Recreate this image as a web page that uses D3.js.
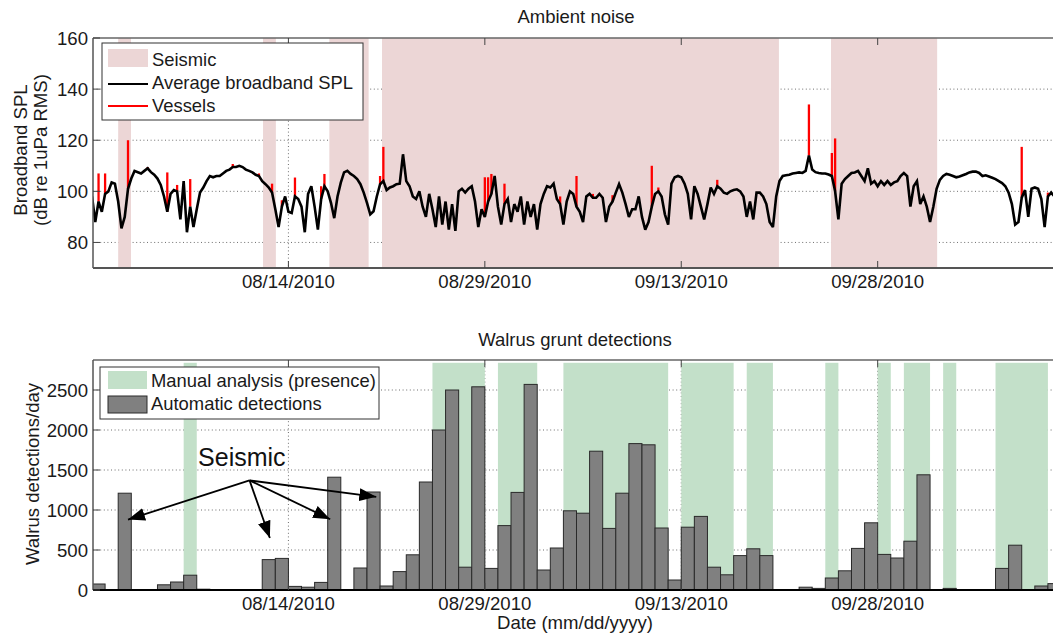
<!DOCTYPE html>
<html>
<head>
<meta charset="utf-8">
<script src="https://cdn.jsdelivr.net/npm/d3@7"></script>
<style>
  body { margin: 0; background: #fff; }
  svg { display: block; font-family: "Liberation Sans", Arial, sans-serif; }
</style>
</head>
<body>
<svg id="chart" width="1053" height="639"></svg>
<script>
// ---- data ----

// broadband SPL, one value every 6 hours starting 07/30/2010 00:00
var splStart = "2010-07-30 00:00";
var splStepHours = 6;
var splValues = [
  98, 88, 96, 92, 99, 100, 103.5, 103, 96, 85.5,
  90, 101, 105, 108, 107.5, 107, 108, 109, 107.5, 106.5,
  105, 102.5, 98, 92, 99, 100.5, 100, 89, 104, 84,
  94, 86, 93, 99.5, 101.5, 104, 106, 105.5, 106, 106,
  107, 108, 108.5, 109.5, 109.5, 110, 109.5, 108.5, 108, 107.4,
  106.5, 106, 104, 102.8, 101.5, 99.5, 93, 86, 94, 98,
  92, 91.5, 98, 97, 94, 84, 99, 102, 94, 85,
  97, 102, 100, 95.5, 89.5, 98, 103.4, 107.4, 108, 106.8,
  106, 104.8, 102.8, 99.5, 95.5, 91, 92.2, 98, 102.8, 104,
  100.5, 101.5, 102, 102.8, 103, 114.5, 104, 102, 98, 97,
  100, 94, 90, 99, 93, 86, 98, 87, 96, 85,
  95, 84.5, 100, 101, 99.5, 101, 102, 96, 86, 93,
  90, 96, 99, 106, 94, 87, 95, 97, 88, 95,
  92, 98, 87, 96, 90, 95, 85, 95, 99, 102,
  101.5, 103, 97, 95, 87, 96, 100, 99, 94, 92,
  88, 98, 99, 97.5, 97.5, 99, 97.5, 88, 94, 96,
  99.5, 102.8, 99.5, 95, 90, 93, 93, 98, 90, 85,
  88, 94, 99, 100, 98, 91, 87, 103, 105.5, 106,
  105.5, 103, 99, 89, 102, 99, 94, 89, 95, 101.5,
  99, 102, 101, 99.5, 99, 100, 100.5, 100.8, 100, 98,
  90, 96, 89, 99.5, 99.5, 98, 95, 88, 86, 98,
  104, 106, 106.3, 106.5, 107, 107.2, 107.4, 107.2, 108, 114,
  108.5, 107.5, 107.2, 107, 107, 106.6, 106, 100, 89, 103,
  104.8, 106, 107.2, 107.4, 108, 106, 104, 109, 103, 104,
  102, 104, 102.5, 104, 102.5, 103.5, 104, 106, 107.2, 106,
  94, 102, 104, 95, 98, 94, 88, 94, 101, 104.5,
  106, 106.8, 106.5, 106, 105.5, 105.8, 106.3, 106.8, 107.4, 107.7,
  107.7, 107.2, 106, 106.3, 105.8, 105.3, 104.8, 104, 103.2, 102,
  99.5, 95, 87, 88, 97.5, 100.5, 90, 101, 101.5, 101,
  97, 86, 98, 99.5, 98, 100
];

// vessel noise: sample index in splValues and the peak level reached
var vesselSteps = [2, 4, 11, 17, 23, 26, 30, 43, 51, 55, 58, 62, 70, 71, 88, 89,
  120, 121, 122, 126, 143, 148, 153, 159, 171, 173, 191, 219, 226, 227, 284, 292];
var vesselPeaks = [107, 107, 120, 109.5, 107.4, 102.5, 104.8, 110.7, 107, 103, 96.5, 105.4, 102, 106.8, 106, 117.4,
  105.5, 105.5, 106.8, 103, 98, 106, 99, 98.5, 110, 101.5, 104.5, 134, 115, 120.7, 117.4, 99.5];

// seismic survey periods
var seismicPeriods = [
  ["2010-08-01 00:00", "2010-08-01 23:30"],
  ["2010-08-12 01:30", "2010-08-13 01:00"],
  ["2010-08-17 03:00", "2010-08-20 03:00"],
  ["2010-08-21 03:30", "2010-09-20 11:00"],
  ["2010-09-24 10:30", "2010-10-02 13:00"]
];

// automatic walrus grunt detections per day, starting 07/30/2010
var detStart = "2010-07-30 00:00";
var detections = [
  75, 0, 1210, 0, 0, 65, 100, 185, 10, 0,
  0, 0, 0, 380, 395, 45, 35, 95, 1410, 0,
  275, 1225, 50, 230, 440, 1350, 2000, 2500, 285, 2540,
  270, 805, 1220, 2570, 250, 525, 990, 960, 1735, 770,
  1210, 1830, 1815, 775, 125, 785, 920, 285, 190, 430,
  515, 430, 5, 0, 35, 20, 150, 240, 520, 840,
  445, 400, 610, 1440, 0, 20, 0, 0, 0, 270,
  560, 5, 50, 80
];

// manual analysis: days with walrus presence
var manualPresence = [
  ["2010-08-06 00:00", "2010-08-07 00:00"],
  ["2010-08-25 00:00", "2010-08-29 00:00"],
  ["2010-08-30 00:00", "2010-09-02 00:00"],
  ["2010-09-04 00:00", "2010-09-12 00:00"],
  ["2010-09-13 00:00", "2010-09-17 00:00"],
  ["2010-09-18 00:00", "2010-09-20 00:00"],
  ["2010-09-24 00:00", "2010-09-25 00:00"],
  ["2010-09-28 00:00", "2010-09-29 00:00"],
  ["2010-09-30 00:00", "2010-10-02 00:00"],
  ["2010-10-03 00:00", "2010-10-04 00:00"],
  ["2010-10-07 00:00", "2010-10-11 00:00"]
];
var presenceLevel = 2840;

// "Seismic" annotation: label, arrow origin and arrow tips (bottom panel units)
var noteLabel = ["2010-08-07 02:30", 1550];
var noteOrigin = ["2010-08-11 00:45", 1370];
var noteTargets = [
  ["2010-08-01 18:00", 880],
  ["2010-08-12 14:00", 650],
  ["2010-08-17 04:30", 885],
  ["2010-08-20 17:00", 1165]
];

var dateTicks = ["2010-08-14 00:00", "2010-08-29 00:00", "2010-09-13 00:00", "2010-09-28 00:00"];
var splTicks = [80, 100, 120, 140, 160];
var detTicks = [0, 500, 1000, 1500, 2000, 2500];

// ---- chart ----
var parseTime = d3.timeParse("%Y-%m-%d %H:%M");
var fmtDate = d3.timeFormat("%m/%d/%Y");
var svg = d3.select("#chart");
var textColor = "#1a1a1a";
var pink = "#ecd6d6", green = "#c3e0c9";

var x = d3.scaleTime()
  .domain([parseTime("2010-07-30 01:50"), parseTime("2010-10-12 00:00")])
  .range([93, 1061]);
var x0 = 93, x1 = 1061;

var yTop = d3.scaleLinear().domain([70, 160]).range([268, 38]);
var yBot = d3.scaleLinear().domain([0, 2875]).range([590, 360]);

var defs = svg.append("defs");
defs.append("clipPath").attr("id", "clipTop").append("rect")
  .attr("x", x0).attr("y", 38).attr("width", x1 - x0).attr("height", 230);
defs.append("clipPath").attr("id", "clipBot").append("rect")
  .attr("x", x0).attr("y", 360).attr("width", x1 - x0).attr("height", 230);
defs.append("marker").attr("id", "arrow")
  .attr("viewBox", "0 0 17 13").attr("refX", 17).attr("refY", 6.5)
  .attr("markerWidth", 17).attr("markerHeight", 13)
  .attr("markerUnits", "userSpaceOnUse").attr("orient", "auto")
  .append("path").attr("d", "M0,0 L17,6.5 L0,13 Z").attr("fill", "#000");

function drawGrid(g, y, yTicks, skipVal) {
  g.selectAll("line.hgrid").data(yTicks.filter(function(v) { return v !== skipVal; }))
    .enter().append("line").attr("class", "hgrid")
    .attr("x1", x0).attr("x2", x1)
    .attr("y1", function(d) { return y(d); }).attr("y2", function(d) { return y(d); })
    .attr("stroke", "#6e6e6e").attr("stroke-width", 1).attr("stroke-dasharray", "1,2.6");
  g.selectAll("line.vgrid").data(dateTicks).enter().append("line").attr("class", "vgrid")
    .attr("x1", function(d) { return x(parseTime(d)); }).attr("x2", function(d) { return x(parseTime(d)); })
    .attr("y1", y.range()[1]).attr("y2", y.range()[0])
    .attr("stroke", "#6e6e6e").attr("stroke-width", 1).attr("stroke-dasharray", "1,2.6");
}

function drawFrame(g, y, yTicks, bottomColor) {
  var top = y.range()[1], bot = y.range()[0];
  g.append("line").attr("x1", x0).attr("x2", x1).attr("y1", top).attr("y2", top)
    .attr("stroke", "#666").attr("stroke-width", 1.5);
  g.append("line").attr("x1", x0).attr("x2", x0).attr("y1", top).attr("y2", bot)
    .attr("stroke", "#555").attr("stroke-width", 1.5);
  g.append("line").attr("x1", x0).attr("x2", x1).attr("y1", bot).attr("y2", bot)
    .attr("stroke", bottomColor).attr("stroke-width", 2);
  // inward ticks
  dateTicks.forEach(function(d) {
    var xx = x(parseTime(d));
    g.append("line").attr("x1", xx).attr("x2", xx).attr("y1", bot).attr("y2", bot - 7)
      .attr("stroke", "#444");
    g.append("line").attr("x1", xx).attr("x2", xx).attr("y1", top).attr("y2", top + 7)
      .attr("stroke", "#444");
    g.append("text").attr("x", xx).attr("y", bot + 20)
      .attr("text-anchor", "middle").attr("font-size", 18.6).attr("fill", textColor)
      .text(fmtDate(parseTime(d)));
  });
  yTicks.forEach(function(v) {
    g.append("line").attr("x1", x0).attr("x2", x0 + 7).attr("y1", y(v)).attr("y2", y(v))
      .attr("stroke", "#444");
    g.append("text").attr("x", x0 - 5).attr("y", y(v)).attr("dy", "0.36em")
      .attr("text-anchor", "end").attr("font-size", 18.6).attr("fill", textColor)
      .text(v);
  });
}

// ===== top panel: ambient noise =====
var gTop = svg.append("g");
drawGrid(gTop, yTop, splTicks, 160);

var plotTop = gTop.append("g").attr("clip-path", "url(#clipTop)");
plotTop.selectAll("rect.seismic").data(seismicPeriods).enter().append("rect")
  .attr("class", "seismic")
  .attr("x", function(d) { return x(parseTime(d[0])); })
  .attr("width", function(d) { return x(parseTime(d[1])) - x(parseTime(d[0])); })
  .attr("y", yTop.range()[1]).attr("height", yTop.range()[0] - yTop.range()[1])
  .attr("fill", pink);

var t0 = parseTime(splStart);
var spl = splValues.map(function(v, i) {
  return { t: d3.timeHour.offset(t0, i * splStepHours), v: v };
});

plotTop.selectAll("path.vessel").data(vesselSteps).enter().append("path")
  .attr("class", "vessel")
  .attr("d", function(s, k) {
    var p = spl[s];
    return "M" + x(p.t) + "," + yTop(p.v) + "V" + yTop(vesselPeaks[k]);
  })
  .attr("stroke", "#ff0000").attr("stroke-width", 2.3).attr("fill", "none");

var line = d3.line().x(function(d) { return x(d.t); }).y(function(d) { return yTop(d.v); });
plotTop.append("path").datum(spl).attr("d", line)
  .attr("fill", "none").attr("stroke", "#000").attr("stroke-width", 2.6)
  .attr("stroke-linejoin", "miter").attr("stroke-miterlimit", 3);

drawFrame(gTop, yTop, splTicks, "#555");

svg.append("text").attr("x", 576).attr("y", 23).attr("text-anchor", "middle")
  .attr("font-size", 18.5).attr("fill", textColor).text("Ambient noise");
svg.append("text").attr("transform", "translate(27,150) rotate(-90)")
  .attr("text-anchor", "middle").attr("font-size", 18.6).attr("fill", textColor)
  .text("Broadband SPL");
svg.append("text").attr("transform", "translate(47,150) rotate(-90)")
  .attr("text-anchor", "middle").attr("font-size", 18.6).attr("fill", textColor)
  .text("(dB re 1uPa RMS)");

// legend top
var lgTop = svg.append("g");
lgTop.append("rect").attr("x", 102).attr("y", 43).attr("width", 261).attr("height", 77)
  .attr("fill", "#fff").attr("stroke", "#333").attr("stroke-width", 1);
lgTop.append("rect").attr("x", 108).attr("y", 49).attr("width", 40).attr("height", 18).attr("fill", pink);
lgTop.append("line").attr("x1", 108).attr("x2", 148).attr("y1", 84).attr("y2", 84)
  .attr("stroke", "#000").attr("stroke-width", 2);
lgTop.append("line").attr("x1", 108).attr("x2", 148).attr("y1", 106).attr("y2", 106)
  .attr("stroke", "#ff0000").attr("stroke-width", 2);
[["Seismic", 66], ["Average broadband SPL", 89], ["Vessels", 112]].forEach(function(r) {
  lgTop.append("text").attr("x", 152).attr("y", r[1]).attr("font-size", 18.4)
    .attr("fill", textColor).text(r[0]);
});

// ===== bottom panel: walrus grunt detections =====
var gBot = svg.append("g");
drawGrid(gBot, yBot, detTicks, 0);

var plotBot = gBot.append("g").attr("clip-path", "url(#clipBot)");
plotBot.selectAll("rect.manual").data(manualPresence).enter().append("rect")
  .attr("class", "manual")
  .attr("x", function(d) { return x(parseTime(d[0])); })
  .attr("width", function(d) { return x(parseTime(d[1])) - x(parseTime(d[0])); })
  .attr("y", yBot(presenceLevel)).attr("height", yBot(0) - yBot(presenceLevel))
  .attr("fill", green);

var d0 = parseTime(detStart);
var bars = detections.map(function(v, i) {
  return { t: d3.timeDay.offset(d0, i), t1: d3.timeDay.offset(d0, i + 1), v: v };
}).filter(function(d) { return d.v > 0; });
plotBot.selectAll("rect.bar").data(bars).enter().append("rect")
  .attr("class", "bar")
  .attr("x", function(d) { return x(d.t); })
  .attr("width", function(d) { return x(d.t1) - x(d.t); })
  .attr("y", function(d) { return yBot(d.v); })
  .attr("height", function(d) { return yBot(0) - yBot(d.v); })
  .attr("fill", "#808080").attr("stroke", "#2a2a2a").attr("stroke-width", 1);

drawFrame(gBot, yBot, detTicks, "#000");

svg.append("text").attr("x", 575).attr("y", 346).attr("text-anchor", "middle")
  .attr("font-size", 18.5).attr("fill", textColor).text("Walrus grunt detections");
svg.append("text").attr("x", 575).attr("y", 629).attr("text-anchor", "middle")
  .attr("font-size", 18.6).attr("fill", textColor).text("Date (mm/dd/yyyy)");
svg.append("text").attr("transform", "translate(39,474) rotate(-90)")
  .attr("text-anchor", "middle").attr("font-size", 18.6).attr("fill", textColor)
  .text("Walrus detections/day");

// legend bottom
var lgBot = svg.append("g");
lgBot.append("rect").attr("x", 100).attr("y", 367).attr("width", 279).attr("height", 52)
  .attr("fill", "#fff").attr("stroke", "#333").attr("stroke-width", 1);
lgBot.append("rect").attr("x", 108).attr("y", 371).attr("width", 39).attr("height", 18).attr("fill", green);
lgBot.append("rect").attr("x", 108).attr("y", 396).attr("width", 39).attr("height", 17)
  .attr("fill", "#808080").attr("stroke", "#2a2a2a").attr("stroke-width", 1);
[["Manual analysis (presence)", 387], ["Automatic detections", 410]].forEach(function(r) {
  lgBot.append("text").attr("x", 151).attr("y", r[1]).attr("font-size", 18.4)
    .attr("fill", textColor).text(r[0]);
});

// annotation
var note = svg.append("g");
note.append("text")
  .attr("x", x(parseTime(noteLabel[0]))).attr("y", yBot(noteLabel[1]))
  .attr("font-size", 25).attr("fill", "#111").text("Seismic");
note.selectAll("line.arrow").data(noteTargets).enter().append("line")
  .attr("class", "arrow")
  .attr("x1", x(parseTime(noteOrigin[0]))).attr("y1", yBot(noteOrigin[1]))
  .attr("x2", function(d) { return x(parseTime(d[0])); })
  .attr("y2", function(d) { return yBot(d[1]); })
  .attr("stroke", "#000").attr("stroke-width", 1.8)
  .attr("marker-end", "url(#arrow)");
</script>
</body>
</html>
